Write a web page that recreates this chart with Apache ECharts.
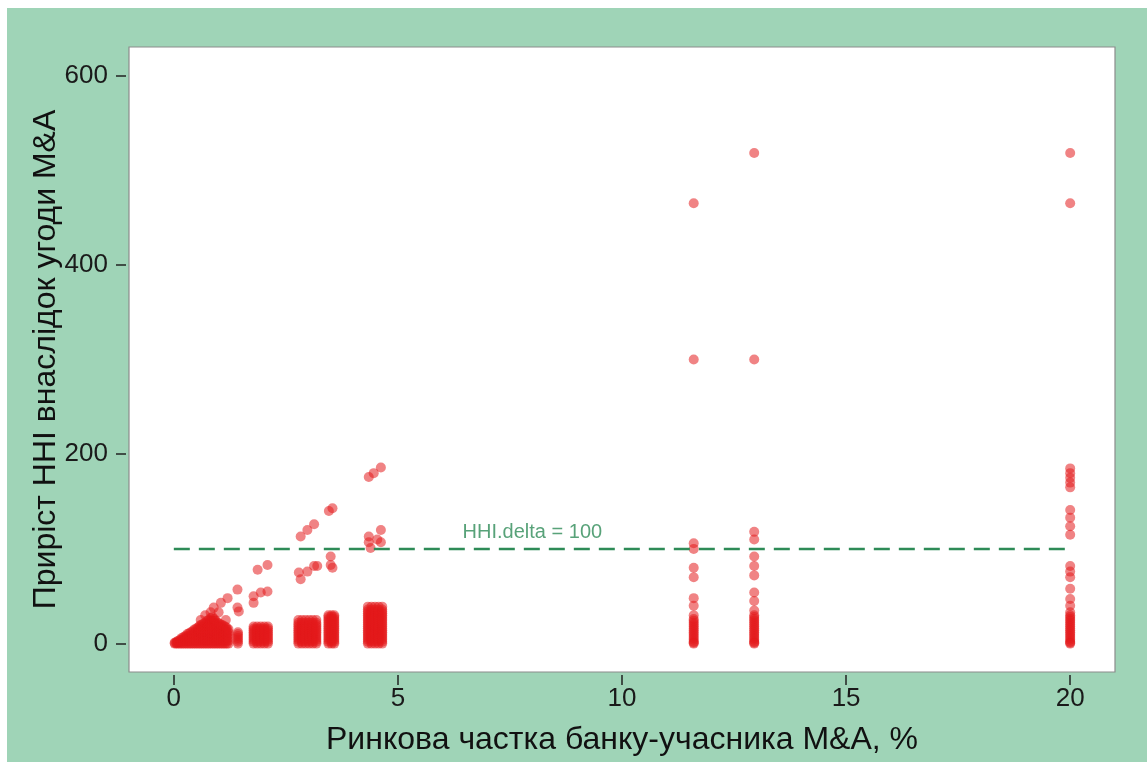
<!DOCTYPE html>
<html>
<head>
<meta charset="utf-8">
<script src="https://cdn.jsdelivr.net/npm/echarts@6/dist/echarts.min.js"></script>
<style>
  html, body { margin: 0; padding: 0; background: #ffffff; }
  #chart { width: 1147px; height: 762px; }
</style>
</head>
<body>
<div id="chart"></div>
<script>
// Axis ticks
const xTicks = [0, 5, 10, 15, 20];
const yTicks = [0, 200, 400, 600];

// Concentration threshold for HHI change
const threshold = 100;
const thresholdSpan = [0, 20];

// Small banks: rows of [market share, HHI increments]
const triangleRows = [
  [0.02, [0, 1]],
  [0.06, [0, 1, 2]],
  [0.10, [0, 1.5, 3]],
  [0.14, [0, 2, 4]],
  [0.18, [0, 2, 4, 6]],
  [0.22, [0, 2.5, 5, 7]],
  [0.26, [0, 2.5, 5, 8]],
  [0.30, [0, 2.5, 5, 7.5, 10]],
  [0.34, [0, 2.5, 5, 7.5, 11]],
  [0.38, [0, 3, 6, 9, 12]],
  [0.42, [0, 3, 6, 9, 13]],
  [0.46, [0, 3, 6, 9, 12, 15]],
  [0.50, [0, 3, 6, 9, 12, 16]],
  [0.54, [0, 3, 6, 9, 12, 15, 17]],
  [0.58, [0, 3, 6, 9, 12, 15, 19]],
  [0.62, [0, 3, 6, 9, 12, 15, 18, 20]],
  [0.66, [0, 3, 6, 9, 12, 15, 18, 21]],
  [0.70, [0, 3, 6, 9, 12, 15, 18, 22]],
  [0.74, [0, 3, 6, 9, 12, 15, 18, 21, 24]],
  [0.78, [0, 3, 6, 9, 12, 15, 18, 21, 25]],
  [0.82, [0, 3, 6, 9, 12, 15, 18, 21, 24, 27]],
  [0.86, [0, 3, 6, 9, 12, 15, 18, 21, 24, 28]],
  [0.90, [0, 3, 6, 9, 12, 15, 18, 21, 24, 26]],
  [0.94, [0, 3, 6, 9, 12, 15, 18, 21, 24]],
  [0.98, [0, 3, 6, 9, 12, 15, 18, 22]],
  [1.02, [0, 3, 6, 9, 12, 15, 18, 21]],
  [1.06, [0, 3, 6, 9, 12, 15, 18, 20]],
  [1.10, [0, 3, 6, 9, 12, 15, 19]],
  [1.14, [0, 3, 6, 9, 12, 15, 18]],
  [1.18, [0, 3, 6, 9, 12, 15, 17]],
  [1.22, [0, 3, 6, 9, 12, 15]]
];

// Stacks of HHI increments shared by mid-size banks
const stack12 = [0, 2, 4, 6, 8, 10, 12];
const stack18 = [0, 2, 4, 6, 8, 10, 12, 14, 16, 18];
const stack25 = [0, 2, 4, 6, 8, 10, 12, 14, 16, 18, 20, 22, 25];
const stack30 = [0, 2, 4, 6, 8, 10, 12, 14, 16, 18, 20, 22, 24, 26, 28, 30];
const stack39 = [0, 2, 4, 6, 8, 10, 12, 14, 16, 18, 20, 22, 24, 26, 28, 30, 32, 34, 36, 39];

const barRows = [
  [1.43, stack12],
  [1.78, stack18], [1.86, stack18], [1.94, stack18], [2.02, stack18], [2.10, stack18],
  [2.78, stack25], [2.86, stack25], [2.94, stack25], [3.02, stack25], [3.10, stack25], [3.18, stack25],
  [3.45, stack30], [3.52, stack30], [3.58, stack30],
  [4.33, stack39], [4.41, stack39], [4.49, stack39], [4.57, stack39], [4.65, stack39]
];

// Isolated deals among small and mid-size banks
const scatteredDeals = [
  [4.35, 176], [4.46, 180], [4.62, 186],
  [3.46, 140], [3.54, 143],
  [2.83, 113], [2.98, 120], [3.13, 126],
  [4.35, 113], [4.62, 120], [4.35, 107], [4.54, 110], [4.39, 101], [4.62, 107],
  [3.50, 92], [3.50, 83], [3.54, 80],
  [2.79, 75], [2.83, 68], [2.98, 76], [3.13, 82], [3.20, 82],
  [1.87, 78], [2.09, 83],
  [1.78, 50], [1.94, 54], [2.09, 55], [1.78, 43],
  [1.42, 57], [1.42, 38], [1.45, 34],
  [1.20, 48], [1.05, 43], [0.89, 38], [0.82, 33],
  [1.00, 33], [1.16, 25], [0.70, 30], [0.60, 25]
];

// Large banks: one share each, HHI increments
const bankA = [11.6, [465, 300, 106, 100, 80, 70, 48, 40, 30, 26, 24, 22, 20, 18, 16, 14, 12, 10, 8, 6, 4, 2, 1, 0]];
const bankB = [12.95, [518, 300, 118, 110, 92, 82, 72, 54, 45, 35, 30, 28, 26, 24, 22, 20, 18, 16, 14, 12, 10, 8, 6, 4, 2, 1, 0]];
const bankC = [20.0, [518, 465, 185, 180, 175, 170, 165, 141, 133, 124, 115, 82, 76, 70, 58, 47, 40, 33, 30, 28, 26, 24, 22, 20, 18, 16, 14, 12, 10, 8, 6, 4, 2, 1, 0]];

function rowsToPoints(rows) {
  const out = [];
  rows.forEach(([share, deltas]) => deltas.forEach(d => out.push([share, d])));
  return out;
}

const points = []
  .concat(rowsToPoints(triangleRows))
  .concat(rowsToPoints(barRows))
  .concat(scatteredDeals)
  .concat(rowsToPoints([bankA, bankB, bankC]));

const tickFont = "'Liberation Sans Narrow', 'Liberation Sans', Arial, sans-serif";
const titleFont = "'Liberation Sans', Arial, sans-serif";

const chart = echarts.init(document.getElementById('chart'), null, { renderer: 'canvas' });

chart.setOption({
  animation: false,
  backgroundColor: '#9fd4b7',
  graphic: [
    { type: 'rect', shape: { x: 0, y: 0, width: 1147, height: 8 }, style: { fill: '#ffffff' }, silent: true },
    { type: 'rect', shape: { x: 0, y: 0, width: 7, height: 762 }, style: { fill: '#ffffff' }, silent: true }
  ],
  grid: {
    left: 129, top: 47, right: 32, bottom: 90,
    show: true, backgroundColor: '#ffffff', borderColor: '#8c8c8c', borderWidth: 1.2
  },
  xAxis: {
    type: 'value', min: -1, max: 21, offset: 3,
    name: 'Ринкова частка банку-учасника M&A, %',
    nameLocation: 'middle', nameGap: 49, nameMoveOverlap: false,
    nameTextStyle: { fontFamily: titleFont, fontSize: 32, color: '#111111' },
    axisLine: { show: false, onZero: false },
    axisTick: { show: true, customValues: xTicks, length: 10, lineStyle: { color: '#222222', width: 1.5 } },
    axisLabel: { customValues: xTicks, fontFamily: tickFont, fontSize: 26, color: '#1a1a1a', margin: 11 },
    splitLine: { show: false }
  },
  yAxis: {
    type: 'value', min: -30, max: 630, offset: 3,
    name: 'Приріст HHI внаслідок угоди M&A',
    nameLocation: 'middle', nameRotate: 90, nameGap: 64, nameMoveOverlap: false,
    nameTextStyle: { fontFamily: titleFont, fontSize: 32, color: '#111111' },
    axisLine: { show: false, onZero: false },
    axisTick: { show: true, customValues: yTicks, length: 10, lineStyle: { color: '#222222', width: 1.5 } },
    axisLabel: { customValues: yTicks, fontFamily: tickFont, fontSize: 26, color: '#1a1a1a', margin: 18 },
    splitLine: { show: false }
  },
  series: [
    {
      type: 'line',
      data: thresholdSpan.map(s => [s, threshold]),
      symbol: 'none',
      silent: true,
      lineStyle: { color: '#2e8b57', width: 2.5, type: [16, 9] },
      z: 3
    },
    {
      type: 'scatter',
      data: points,
      symbol: 'circle',
      symbolSize: 10,
      itemStyle: { color: 'rgba(228, 26, 28, 0.68)' },
      silent: true,
      z: 2
    },
    {
      type: 'scatter',
      data: [[8, threshold + 17]],
      symbolSize: 0,
      silent: true,
      label: {
        show: true, position: 'inside',
        formatter: 'HHI.delta = ' + threshold,
        fontFamily: titleFont, fontSize: 20, color: '#2e8b57'
      },
      z: 4
    }
  ]
});
</script>
</body>
</html>
